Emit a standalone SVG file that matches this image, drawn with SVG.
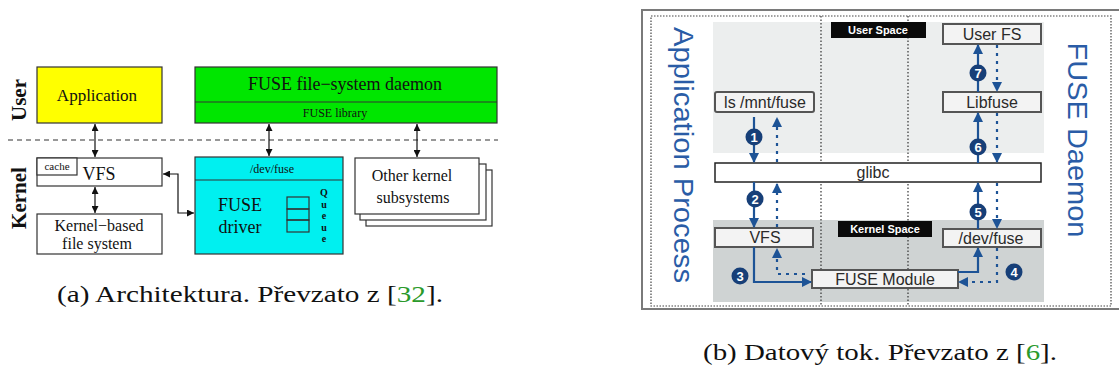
<svg xmlns="http://www.w3.org/2000/svg" width="1119" height="374" viewBox="0 0 1119 374">
  <defs>
    <marker id="ah" viewBox="0 0 10 10" refX="10" refY="5" markerWidth="7" markerHeight="7" markerUnits="userSpaceOnUse" orient="auto-start-reverse">
      <path d="M0,0 L10,5 L0,10 z" fill="#111"/>
    </marker>
    <marker id="bh" viewBox="0 0 10 10" refX="9" refY="5" markerWidth="10" markerHeight="10" markerUnits="userSpaceOnUse" orient="auto-start-reverse">
      <path d="M0,0 L10,5 L0,10 z" fill="#1d5396"/>
    </marker>
  </defs>
  <style>
    .serif { font-family: "Liberation Serif", "Times New Roman", serif; fill: #111; }
    .sans { font-family: "Liberation Sans", Arial, sans-serif; fill: #2a2a2a; }
    .box { stroke: #333; stroke-width: 1.2; }
    .link { fill: none; stroke: #111; stroke-width: 1.2; }
    .bbox { fill: #f3f3f3; stroke: #555; stroke-width: 2; }
    .solid { fill: none; stroke: #1d5396; stroke-width: 2.2; }
    .dash { fill: none; stroke: #1d5396; stroke-width: 2.2; stroke-dasharray: 3 5; }
    .badge circle { fill: #173f78; }
    .badge text { font-family: "Liberation Sans", Arial, sans-serif; font-weight: bold; font-size: 13px; fill: #fff; text-anchor: middle; }
    .label rect { fill: #0a0a0a; }
    .label text { font-family: "Liberation Sans", Arial, sans-serif; font-weight: bold; font-size: 11px; fill: #fff; text-anchor: middle; }
    .cap { font-family: "Liberation Serif", "Times New Roman", serif; font-size: 24px; fill: #111; }
    .ref { fill: #2b9a2b; }
  </style>

  <!-- ===== Architecture (a) ===== -->
  <text class="serif" transform="translate(26,100) rotate(-90)" text-anchor="middle" font-size="21" font-weight="bold">User</text>
  <text class="serif" transform="translate(26,198) rotate(-90)" text-anchor="middle" font-size="21" font-weight="bold">Kernel</text>
  <line x1="8" y1="140" x2="498" y2="140" stroke="#777" stroke-width="1.5" stroke-dasharray="5 4"/>

  <g id="application">
    <rect class="box" x="37" y="67" width="125" height="56" fill="#ffff00"/>
    <text class="serif" x="97" y="101" text-anchor="middle" font-size="17">Application</text>
  </g>

  <g id="fuse-daemon">
    <rect class="box" x="195" y="67" width="302" height="56" fill="#00e600"/>
    <line class="box" x1="195" y1="102" x2="497" y2="102"/>
    <text class="serif" x="345" y="90" text-anchor="middle" font-size="18">FUSE file−system daemon</text>
    <text class="serif" x="335" y="117" text-anchor="middle" font-size="12">FUSE library</text>
  </g>

  <g id="vfs">
    <rect class="box" x="37" y="158" width="125" height="28" fill="#fff"/>
    <rect class="box" x="37" y="158" width="40" height="17" fill="#fff"/>
    <text class="serif" x="57" y="170" text-anchor="middle" font-size="11">cache</text>
    <text class="serif" x="99" y="180" text-anchor="middle" font-size="18">VFS</text>
  </g>

  <g id="kernel-fs">
    <rect class="box" x="37" y="214" width="125" height="40" fill="#fff"/>
    <text class="serif" x="99" y="231" text-anchor="middle" font-size="16">Kernel−based</text>
    <text class="serif" x="97" y="249" text-anchor="middle" font-size="16">file system</text>
  </g>

  <g id="fuse-driver">
    <rect class="box" x="195" y="157" width="148" height="97" fill="#00f0f0"/>
    <line class="box" x1="195" y1="180" x2="343" y2="180"/>
    <text class="serif" x="272" y="173" text-anchor="middle" font-size="12">/dev/fuse</text>
    <text class="serif" x="240" y="211" text-anchor="middle" font-size="18">FUSE</text>
    <text class="serif" x="240" y="233" text-anchor="middle" font-size="18">driver</text>
    <rect class="box" x="287" y="197" width="22" height="12" fill="none"/>
    <rect class="box" x="287" y="209" width="22" height="11" fill="none"/>
    <rect class="box" x="287" y="220" width="22" height="12" fill="none"/>
    <g class="serif" font-size="10" font-weight="bold" text-anchor="middle">
      <text x="324" y="196">Q</text>
      <text x="324" y="207.5">u</text>
      <text x="324" y="219">e</text>
      <text x="324" y="230.5">u</text>
      <text x="324" y="242">e</text>
    </g>
  </g>

  <g id="other-kernel">
    <rect class="box" x="366" y="170" width="126" height="56" fill="#fff"/>
    <rect class="box" x="360" y="164" width="126" height="56" fill="#fff"/>
    <rect class="box" x="355" y="158" width="124" height="56" fill="#fff"/>
    <text class="serif" x="412" y="181" text-anchor="middle" font-size="16">Other kernel</text>
    <text class="serif" x="413" y="203" text-anchor="middle" font-size="16">subsystems</text>
  </g>

  <g id="connectors-a">
    <line class="link" x1="95" y1="124" x2="95" y2="157" marker-start="url(#ah)" marker-end="url(#ah)"/>
    <line class="link" x1="95" y1="187" x2="95" y2="213" marker-start="url(#ah)" marker-end="url(#ah)"/>
    <polyline class="link" points="163,174 178,174 178,213 194,213" marker-start="url(#ah)" marker-end="url(#ah)"/>
    <line class="link" x1="269" y1="124" x2="269" y2="156" marker-start="url(#ah)" marker-end="url(#ah)"/>
    <line class="link" x1="417" y1="124" x2="417" y2="157" marker-start="url(#ah)" marker-end="url(#ah)"/>
  </g>

  <text class="cap" x="57" y="302" textLength="386" lengthAdjust="spacingAndGlyphs">(a) Architektura. Převzato z [<tspan class="ref">32</tspan>].</text>

  <!-- ===== Data flow (b) ===== -->
  <rect x="642" y="10" width="490" height="299" fill="#fff" stroke="#7a7a7a" stroke-width="2"/>
  <rect x="651" y="16" width="460" height="290" fill="none" stroke="#444" stroke-width="1.2" stroke-dasharray="1.5 1.5"/>

  <!-- user space and kernel space bands -->
  <rect x="713" y="22" width="331" height="131" fill="#eceeee"/>
  <rect x="713" y="220" width="331" height="82" fill="#cfd3d3"/>

  <line x1="821" y1="16" x2="821" y2="306" stroke="#333" stroke-width="1.2" stroke-dasharray="1.5 2"/>
  <line x1="908" y1="16" x2="908" y2="306" stroke="#333" stroke-width="1.2" stroke-dasharray="1.5 2"/>

  <text transform="translate(674,155) rotate(90)" text-anchor="middle" font-family="Liberation Sans, Arial, sans-serif" font-size="27" fill="#2a5ca6" textLength="256" lengthAdjust="spacingAndGlyphs">Application Process</text>
  <text transform="translate(1068,140) rotate(90)" text-anchor="middle" font-family="Liberation Sans, Arial, sans-serif" font-size="28" fill="#2a5ca6" textLength="195" lengthAdjust="spacingAndGlyphs">FUSE Daemon</text>

  <g id="user-space-label" class="label">
    <rect x="831" y="22" width="95" height="16"/>
    <text x="878" y="34">User Space</text>
  </g>
  <g id="kernel-space-label" class="label">
    <rect x="838" y="221" width="94" height="16"/>
    <text x="885" y="233">Kernel Space</text>
  </g>

  <g id="glibc">
    <rect x="715" y="163" width="326" height="19" fill="#fff" stroke="#222" stroke-width="1.5"/>
    <text class="sans" x="873" y="178" text-anchor="middle" font-size="16">glibc</text>
  </g>
  <g id="ls">
    <rect class="bbox" x="715" y="92" width="99" height="20" rx="2"/>
    <text class="sans" x="765" y="108" text-anchor="middle" font-size="16">ls /mnt/fuse</text>
  </g>
  <g id="user-fs">
    <rect class="bbox" x="943" y="24" width="98" height="20"/>
    <text class="sans" x="992" y="40" text-anchor="middle" font-size="16">User FS</text>
  </g>
  <g id="libfuse">
    <rect class="bbox" x="943" y="92" width="98" height="20"/>
    <text class="sans" x="992" y="108" text-anchor="middle" font-size="16">Libfuse</text>
  </g>
  <g id="vfs-b">
    <rect class="bbox" x="715" y="228" width="98" height="19"/>
    <text class="sans" x="765" y="243" text-anchor="middle" font-size="16">VFS</text>
  </g>
  <g id="dev-fuse">
    <rect class="bbox" x="943" y="229" width="98" height="18"/>
    <text class="sans" x="991" y="244" text-anchor="middle" font-size="16">/dev/fuse</text>
  </g>
  <g id="fuse-module">
    <rect class="bbox" x="812" y="270" width="146" height="18"/>
    <text class="sans" x="885" y="285" text-anchor="middle" font-size="16">FUSE Module</text>
  </g>

  <g id="connectors-b">
    <!-- application side -->
    <line class="solid" x1="754" y1="117" x2="754" y2="162" marker-end="url(#bh)"/>
    <line class="dash" x1="777" y1="162" x2="777" y2="118" marker-end="url(#bh)"/>
    <line class="solid" x1="754" y1="182" x2="754" y2="227" marker-end="url(#bh)"/>
    <line class="dash" x1="777" y1="227" x2="777" y2="184" marker-end="url(#bh)"/>
    <polyline class="solid" points="754,247 754,282 811,282" marker-end="url(#bh)"/>
    <polyline class="dash" points="805,274 777,274 777,249" marker-end="url(#bh)"/>
    <!-- daemon side -->
    <polyline class="solid" points="958,272 978,272 978,248" marker-end="url(#bh)"/>
    <polyline class="dash" points="997,248 997,282 959,282" marker-end="url(#bh)"/>
    <line class="solid" x1="978" y1="229" x2="978" y2="183" marker-end="url(#bh)"/>
    <line class="dash" x1="997" y1="183" x2="997" y2="228" marker-end="url(#bh)"/>
    <line class="solid" x1="978" y1="163" x2="978" y2="113" marker-end="url(#bh)"/>
    <line class="dash" x1="997" y1="113" x2="997" y2="162" marker-end="url(#bh)"/>
    <line class="solid" x1="978" y1="92" x2="978" y2="45" marker-end="url(#bh)"/>
    <line class="dash" x1="997" y1="45" x2="997" y2="91" marker-end="url(#bh)"/>
  </g>

  <g id="steps">
    <g class="badge"><circle cx="754" cy="137" r="8.5"/><text x="754" y="141.5">1</text></g>
    <g class="badge"><circle cx="755" cy="199" r="8.5"/><text x="755" y="203.5">2</text></g>
    <g class="badge"><circle cx="740" cy="276" r="8.5"/><text x="740" y="280.5">3</text></g>
    <g class="badge"><circle cx="1014" cy="272" r="8.5"/><text x="1014" y="276.5">4</text></g>
    <g class="badge"><circle cx="978" cy="212" r="8.5"/><text x="978" y="216.5">5</text></g>
    <g class="badge"><circle cx="978" cy="147" r="8.5"/><text x="978" y="151.5">6</text></g>
    <g class="badge"><circle cx="978" cy="73" r="8.5"/><text x="978" y="77.5">7</text></g>
  </g>

  <text class="cap" x="703" y="360" textLength="354" lengthAdjust="spacingAndGlyphs">(b) Datový tok. Převzato z [<tspan class="ref">6</tspan>].</text>
</svg>
